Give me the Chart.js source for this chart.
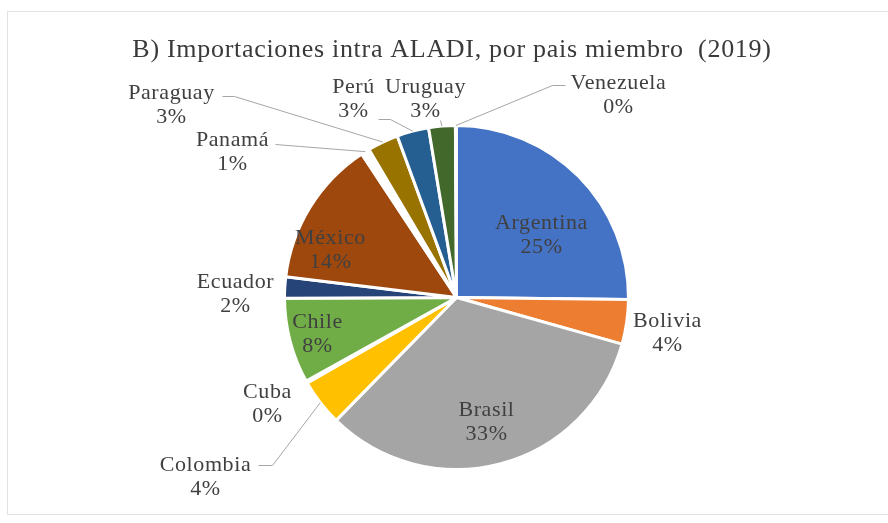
<!DOCTYPE html>
<html lang="es">
<head>
  <meta charset="UTF-8">
  <title>Importaciones intra ALADI 2019</title>
  <script src="https://cdn.jsdelivr.net/npm/chart.js"></script>
  <style>
    body { margin: 0; background: #fff; }
    canvas { display: block; }
  </style>
</head>
<body>
  <canvas id="grafico" width="888" height="523"></canvas>

  <script>
    // datos (participacion en %)
    const paises = ["Argentina", "Bolivia", "Brasil", "Colombia", "Cuba", "Chile", "Ecuador",
                    "México", "Panamá", "Paraguay", "Perú", "Uruguay", "Venezuela"];
    const participacion = [25.2, 4.2, 33.0, 4.4, 0.2, 8.0, 2.0, 13.8, 0.8, 2.9, 3.0, 2.5, 0.1];
    const titulo = "B) Importaciones intra ALADI, por pais miembro  (2019)";

    const colores = ["#4472C4", "#ED7D31", "#A5A5A5", "#FFC000", "#5B9BD5", "#70AD47", "#264478",
                     "#9E480E", "#FFFFFF", "#997300", "#255E91", "#43682B", "#698ED0"];

    // posicion de cada etiqueta respecto al centro del pastel, y linea guia si la hay
    const etiquetas = {
      "Argentina": { dx: 85, dy: -62 },
      "Bolivia":   { dx: 211, dy: 36 },
      "Brasil":    { dx: 30, dy: 125 },
      "Colombia":  { dx: -251, dy: 180, guia: [[-198, 168], [-184, 168]] },
      "Cuba":      { dx: -189, dy: 107 },
      "Chile":     { dx: -139, dy: 37 },
      "Ecuador":   { dx: -221, dy: -3 },
      "México":    { dx: -126, dy: -47 },
      "Panamá":    { dx: -224, dy: -145, guia: [[-181, -153], [-156, -151]] },
      "Paraguay":  { dx: -285, dy: -192, guia: [[-234, -201], [-222, -201]] },
      "Perú":      { dx: -103, dy: -198, guia: [[-78, -178], [-66, -178]] },
      "Uruguay":   { dx: -31, dy: -198, guia: [[-16, -177]] },
      "Venezuela": { dx: 162, dy: -202, guia: [[109, -212], [96, -212]] }
    };

    const etiquetasPlugin = {
      id: 'etiquetas',
      beforeDraw(chart) {
        const ctx = chart.ctx;
        ctx.save();
        ctx.fillStyle = '#fff';
        ctx.fillRect(0, 0, chart.width, chart.height);
        // marco
        ctx.strokeStyle = '#e2e2e2';
        ctx.lineWidth = 1;
        ctx.strokeRect(7.5, 11.5, 900, 503);
        // titulo
        ctx.fillStyle = '#3a3a3a';
        ctx.font = '26px "Liberation Serif"';
        ctx.letterSpacing = '0.7px';
        ctx.textAlign = 'center';
        ctx.textBaseline = 'alphabetic';
        ctx.fillText(titulo, 452, 57);
        ctx.restore();
      },
      afterDatasetsDraw(chart) {
        const ctx = chart.ctx;
        const arcs = chart.getDatasetMeta(0).data;
        ctx.save();
        arcs.forEach((arc, i) => {
          const p = arc.getProps(['x', 'y', 'startAngle', 'endAngle', 'outerRadius'], true);
          const cfg = etiquetas[paises[i]];
          const lx = p.x + cfg.dx, ly = p.y + cfg.dy;

          if (cfg.guia) {
            const mid = (p.startAngle + p.endAngle) / 2;
            ctx.strokeStyle = '#a6a6a6';
            ctx.lineWidth = 1;
            ctx.beginPath();
            cfg.guia.forEach(([gx, gy], k) => {
              if (k === 0) ctx.moveTo(p.x + gx, p.y + gy);
              else ctx.lineTo(p.x + gx, p.y + gy);
            });
            ctx.lineTo(p.x + Math.cos(mid) * p.outerRadius, p.y + Math.sin(mid) * p.outerRadius);
            ctx.stroke();
          }

          ctx.fillStyle = '#404040';
          ctx.font = '22px "Liberation Serif"';
          ctx.letterSpacing = '0.6px';
          ctx.textAlign = 'center';
          ctx.textBaseline = 'middle';
          ctx.fillText(paises[i], lx, ly - 12);
          ctx.fillText(Math.round(participacion[i]) + '%', lx, ly + 12);
        });
        ctx.restore();
      }
    };

    new Chart(document.getElementById('grafico'), {
      type: 'pie',
      data: {
        labels: paises,
        datasets: [{
          data: participacion,
          backgroundColor: colores,
          borderColor: '#fff',
          borderWidth: 3
        }]
      },
      options: {
        responsive: false,
        animation: false,
        devicePixelRatio: 1,
        layout: { padding: { left: 283, right: 258, top: 124, bottom: 52 } },
        plugins: {
          legend: { display: false },
          tooltip: { enabled: false },
          title: { display: false }
        }
      },
      plugins: [etiquetasPlugin]
    });
  </script>
</body>
</html>
